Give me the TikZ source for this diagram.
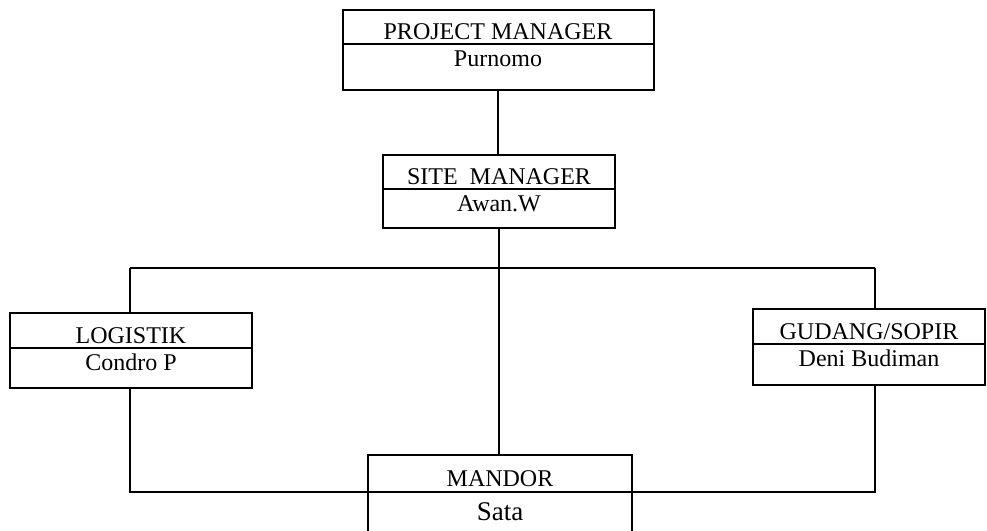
\documentclass[tikz,border=0pt]{standalone}
\usepackage{fontspec}
\setmainfont{Liberation Serif}
\usepackage{tikz}
\usetikzlibrary{positioning}

\begin{document}
\begin{tikzpicture}[x=0.4pt, y=-0.4pt, line width=0.8pt]
        \tikzstyle{every node}=[outer sep=0pt, font=\fontsize{9.6}{11}\selectfont]
        \tikzstyle{jabatan}=[draw, anchor=north, inner ysep=2pt, text depth=0pt, text height=9.8pt]
        \tikzstyle{nama}=[draw, inner ysep=2pt, text height=7pt]

        \useasboundingbox (0,0) rectangle (987,531);

        % kotak jabatan
        \node (pm)  [jabatan, minimum width=124.4pt] at (498,10) {PROJECT MANAGER};
        \node (pmnama)  [nama, minimum width=124.4pt, text depth=7.4pt, below=0pt of pm] {Purnomo};

        \node (sm)  [jabatan, minimum width=92.8pt] at (499,155) {SITE\ \ MANAGER};
        \node (smnama)  [nama, minimum width=92.8pt, text depth=4.6pt, below=0pt of sm] {Awan.W};

        \node (log) [jabatan, minimum width=96.8pt, text height=10.2pt] at (131,313) {LOGISTIK};
        \node (lognama) [nama, minimum width=96.8pt, text depth=5pt, below=0pt of log] {Condro P};

        \node (gud) [jabatan, minimum width=92.8pt, text height=10.2pt] at (869,309) {GUDANG/SOPIR};
        \node (gudnama) [nama, minimum width=92.8pt, text depth=5.4pt, below=0pt of gud] {Deni Budiman};

        \node (mdr) [jabatan, minimum width=105.6pt, text height=10.8pt] at (500,455) {MANDOR};
        \node (mdrnama) [minimum width=105.6pt, minimum height=15.6pt, inner sep=0pt,
            font=\fontsize{10.8}{12}\selectfont, below=0pt of mdr] {Sata};
        \draw (mdrnama.north west) -- (mdrnama.south west);
        \draw (mdrnama.north east) -- (mdrnama.south east);

        % garis penghubung
        \coordinate (bar) at (0,268);
        \coordinate (busL) at (130,268);
        \coordinate (busR) at (875,268);

        \draw (pmnama.south) -- (pmnama.south |- sm.north);
        \draw (smnama.south) -- (smnama.south |- mdr.north);
        \draw (busL) -- (busR);
        \draw (busL) -- (busL |- log.north);
        \draw (busR) -- (busR |- gud.north);
        \draw (busL |- lognama.south) |- (mdr.south) -| (busR |- gudnama.south);

\end{tikzpicture}
\end{document}
